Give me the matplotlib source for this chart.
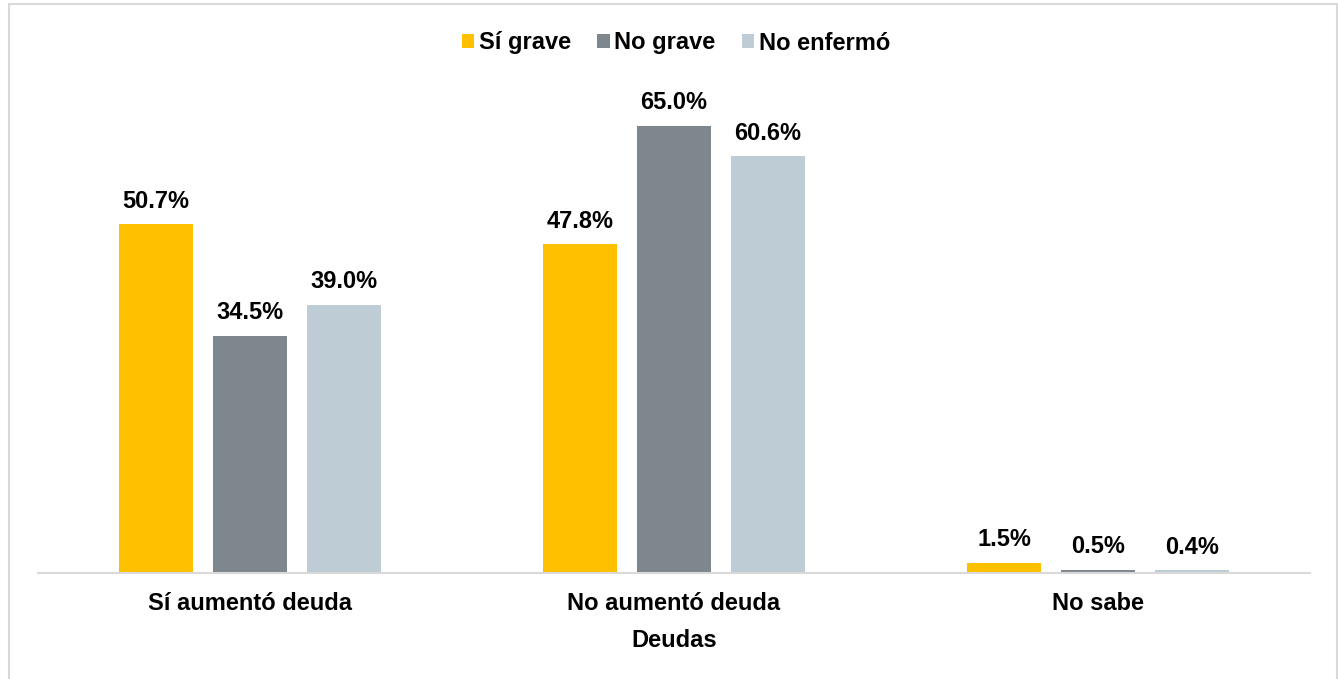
import matplotlib
matplotlib.use("Agg")
import matplotlib.pyplot as plt
from matplotlib.patches import Rectangle
import numpy as np

categories = ["Sí aumentó deuda", "No aumentó deuda", "No sabe"]
series_names = ["Sí grave", "No grave", "No enfermó"]
si_grave = [50.7, 47.8, 1.5]
no_grave = [34.5, 65.0, 0.5]
no_enfermo = [39.0, 60.6, 0.4]
colors = ["#FFC000", "#7E878D", "#BDCCD5"]
x_title = "Deudas"

plt.rcParams['font.family'] = ['Liberation Sans', 'DejaVu Sans']
plt.rcParams['font.weight'] = 'bold'

W, H = 1338, 679
fig = plt.figure(figsize=(W / 100, H / 100), dpi=100)
ax = fig.add_axes([38 / W, (H - 573) / H, (1310 - 38) / W, (573 - 78) / H])

# figure border
fig.patches.append(Rectangle((8.5 / W, -0.05), (1337 - 8.5) / W, (H - 3.5) / H + 0.05,
                             transform=fig.transFigure, fill=False,
                             edgecolor="#D9D9D9", linewidth=1.5, zorder=0))

x = np.arange(len(categories))
bw = 74 / 424
step = 94 / 424
all_series = [si_grave, no_grave, no_enfermo]
for i, (vals, name, c) in enumerate(zip(all_series, series_names, colors)):
    pos = x + (i - 1) * step
    bars = ax.bar(pos, vals, width=bw, color=c, label=name, edgecolor='none', zorder=2)
    for b, v in zip(bars, vals):
        ax.annotate(f"{v:.1f}%", (b.get_x() + b.get_width() / 2, v),
                    xytext=(0, 12), textcoords="offset points",
                    ha="center", va="baseline", fontsize=17, fontweight="bold",
                    color="black")

ax.set_xlim(-0.5, 2.5)
ax.set_ylim(0, 72)
ax.set_yticks([])
for s in ["top", "right", "left"]:
    ax.spines[s].set_visible(False)
ax.spines["bottom"].set_color("#D9D9D9")
ax.spines["bottom"].set_linewidth(1.5)
ax.set_xticks(x)
ax.set_xticklabels(categories, fontsize=17, fontweight="bold")
ax.tick_params(axis="x", length=0, pad=14)
ax.set_xlabel(x_title, fontsize=17, fontweight="bold", labelpad=10)

leg = fig.legend(loc="center", bbox_to_anchor=(676 / W, (H - 43) / H), ncol=3,
                 frameon=False, prop={'size': 17, 'weight': 'bold'},
                 handlelength=0.52, handleheight=0.52, handletextpad=0.2,
                 columnspacing=1.1, borderpad=0, borderaxespad=0)

fig.savefig("out.png", dpi=100)
